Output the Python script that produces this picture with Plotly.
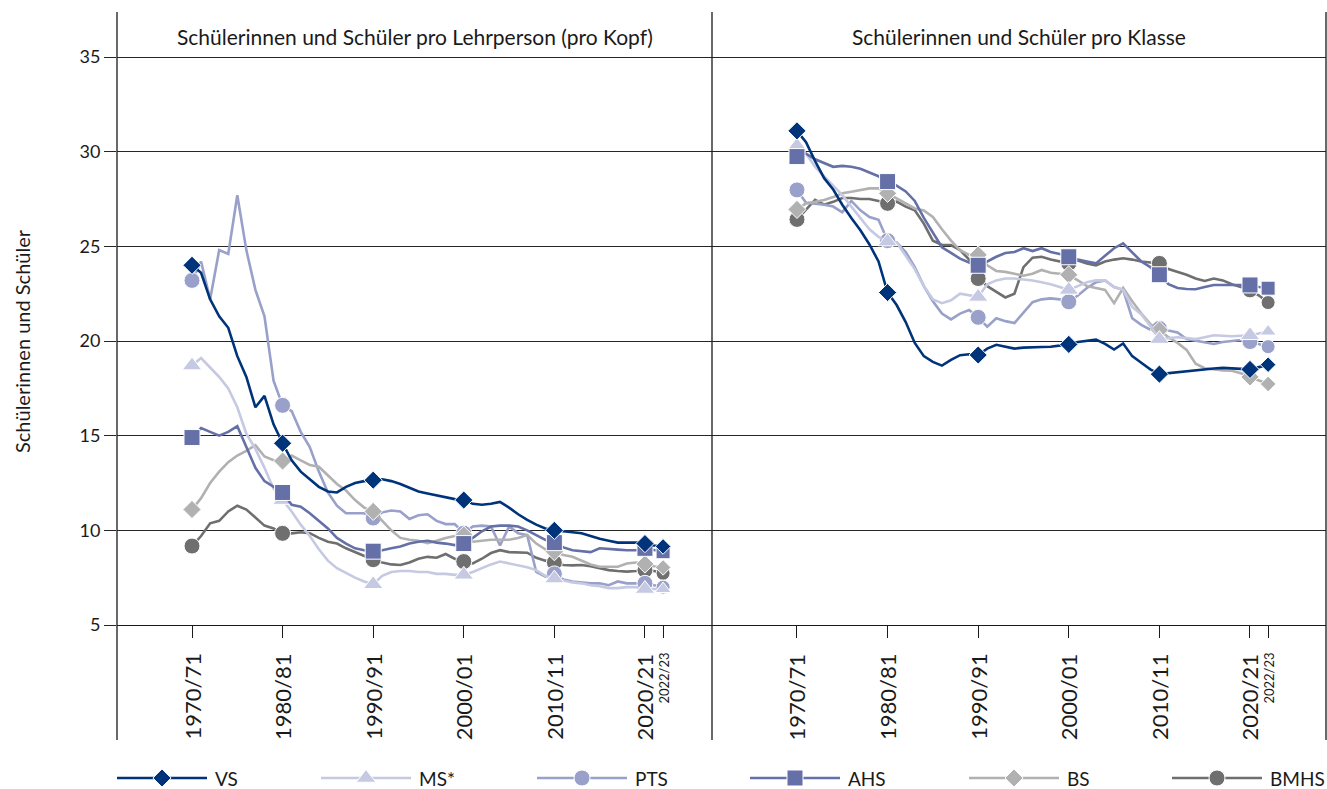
import plotly.graph_objects as go

years = list(range(1970, 2023))
marker_years = [1970, 1980, 1990, 2000, 2010, 2020, 2022]
tick_labels = ["1970/71", "1980/81", "1990/91", "2000/01", "2010/11", "2020/21", "2022/23"]
series = ["VS", "MS*", "PTS", "AHS", "BS", "BMHS"]

# Left panel: Schülerinnen und Schüler pro Lehrperson (pro Kopf)
vs_l = [24.0, 23.6, 22.2, 21.3, 20.7, 19.2, 18.1, 16.5, 17.1, 15.6,
        14.6, 13.7, 13.1, 12.7, 12.3, 12.05, 12.0, 12.3, 12.5, 12.6,
        12.65, 12.7, 12.6, 12.45, 12.25, 12.05, 11.95, 11.85, 11.75, 11.65,
        11.6, 11.4, 11.35, 11.4, 11.5, 11.2, 10.85, 10.55, 10.3, 10.1,
        10.0, 9.95, 9.9, 9.85, 9.7, 9.55, 9.45, 9.35, 9.35, 9.35,
        9.3, 9.2, 9.15]
ms_l = [18.7, 19.1, 18.6, 18.1, 17.5, 16.5, 15.1, 14.3, 13.3, 12.2,
        11.6, 11.0, 10.3, 9.7, 9.0, 8.4, 8.0, 7.75, 7.5, 7.3,
        7.15, 7.6, 7.8, 7.85, 7.85, 7.8, 7.8, 7.7, 7.7, 7.65,
        7.65, 7.8, 8.0, 8.2, 8.35, 8.25, 8.15, 8.05, 7.9, 7.6,
        7.45, 7.35, 7.25, 7.2, 7.1, 7.05, 6.95, 6.95, 7.0, 7.0,
        6.9, 6.9, 6.9]
pts_l = [23.2, 24.2, 22.2, 24.8, 24.6, 27.7, 24.8, 22.7, 21.3, 17.9,
         16.6, 16.3, 15.2, 14.4, 13.1, 12.0, 11.3, 10.9, 10.9, 10.9,
         10.65, 10.95, 11.05, 11.0, 10.6, 10.8, 10.85, 10.5, 10.33, 10.33,
         9.85, 10.2, 10.25, 10.2, 9.2, 10.2, 9.85, 9.75, 7.8, 7.55,
         7.7, 7.4, 7.3, 7.25, 7.2, 7.2, 7.1, 7.3, 7.2, 7.2,
         7.2, 7.1, 7.0]
ahs_l = [14.9, 15.4, 15.2, 15.0, 15.2, 15.5, 14.4, 13.3, 12.6, 12.3,
         12.0, 11.35, 11.25, 10.9, 10.5, 10.1, 9.6, 9.3, 9.05, 8.95,
         8.9, 8.95, 9.05, 9.15, 9.3, 9.4, 9.45, 9.35, 9.3, 9.22,
         9.3, 9.6, 9.95, 10.2, 10.25, 10.25, 10.2, 10.0, 9.75, 9.5,
         9.35, 9.1, 8.95, 8.9, 8.85, 9.05, 9.0, 8.98, 8.95, 8.95,
         9.05, 8.95, 8.87]
bs_l = [11.1, 11.7, 12.5, 13.1, 13.6, 13.95, 14.2, 14.5, 13.9, 13.7,
        13.66, 13.95, 13.7, 13.45, 13.36, 12.9, 12.45, 12.1, 11.6, 11.2,
        11.0, 10.5, 10.0, 9.6, 9.5, 9.45, 9.32, 9.45, 9.6, 9.7,
        9.75, 9.4, 9.45, 9.5, 9.5, 9.5, 9.6, 9.75, 9.3, 9.0,
        8.87, 8.7, 8.6, 8.4, 8.2, 8.08, 8.08, 8.08, 8.25, 8.3,
        8.22, 8.1, 8.04]
bmhs_l = [9.17, 9.7, 10.37, 10.5, 11.0, 11.3, 11.1, 10.7, 10.25, 10.1,
          9.84, 9.84, 9.9, 9.85, 9.6, 9.4, 9.3, 9.05, 8.85, 8.65,
          8.45, 8.3, 8.2, 8.17, 8.3, 8.5, 8.6, 8.55, 8.75, 8.5,
          8.35, 8.25, 8.5, 8.8, 8.95, 8.85, 8.82, 8.82, 8.55, 8.4,
          8.3, 8.17, 8.15, 8.17, 8.1, 8.0, 7.9, 7.85, 7.82, 7.85,
          7.9, 7.85, 7.73]

# Right panel: Schülerinnen und Schüler pro Klasse
vs_r = [31.1, 30.5, 29.5, 28.6, 28.0, 27.2, 26.5, 25.85, 25.1, 24.2,
        22.56, 21.9, 21.0, 19.9, 19.2, 18.9, 18.7, 19.0, 19.25, 19.3,
        19.26, 19.6, 19.8, 19.7, 19.6, 19.65, 19.65, 19.68, 19.7, 19.75,
        19.82, 19.95, 20.0, 20.07, 19.85, 19.55, 19.87, 19.2, 18.85, 18.5,
        18.25, 18.3, 18.37, 18.42, 18.46, 18.5, 18.55, 18.58, 18.55, 18.5,
        18.5, 18.62, 18.75]
ms_r = [30.3, 29.9, 29.2, 28.7, 28.2, 27.7, 27.1, 26.5, 25.9, 25.5,
        25.25, 25.2, 24.5, 23.8, 22.9, 22.2, 22.0, 22.15, 22.5, 22.4,
        22.33, 23.0, 23.2, 23.3, 23.3, 23.25, 23.2, 23.1, 23.0, 22.85,
        22.7, 22.9, 23.1, 23.2, 23.2, 22.85, 22.7, 21.8, 21.4, 20.8,
        20.1, 20.15, 20.2, 20.15, 20.1, 20.2, 20.3, 20.28, 20.25, 20.28,
        20.3, 20.4, 20.5]
pts_r = [27.98, 27.3, 27.25, 27.2, 27.1, 26.8, 27.4, 26.9, 26.55, 26.4,
         25.3, 25.2, 24.7, 23.9, 22.9, 22.1, 21.45, 21.14, 21.45, 21.64,
         21.25, 20.76, 21.2, 21.05, 20.95, 21.5, 22.05, 22.2, 22.25, 22.2,
         22.07, 22.4, 22.8, 23.1, 23.2, 22.85, 22.7, 21.2, 20.85, 20.6,
         20.66, 20.55, 20.45, 20.1, 20.0, 19.9, 19.84, 19.95, 20.0, 20.05,
         19.97, 19.85, 19.7]
ahs_r = [29.74, 29.9, 29.6, 29.4, 29.2, 29.25, 29.2, 29.1, 28.9, 28.7,
         28.42, 28.2, 27.9, 27.4, 26.5, 25.7, 24.95, 24.65, 24.35, 24.15,
         24.0, 24.2, 24.45, 24.65, 24.7, 24.9, 24.75, 24.9, 24.7, 24.6,
         24.45, 24.3, 24.2, 24.1, 24.5, 24.9, 25.16, 24.7, 24.2, 23.9,
         23.5, 23.0, 22.8, 22.75, 22.73, 22.85, 22.96, 22.96, 22.96, 22.96,
         22.96, 22.85, 22.79]
bs_r = [26.95, 27.27, 27.35, 27.45, 27.6, 27.8, 27.88, 27.95, 28.06, 28.06,
        27.8, 27.55, 27.25, 27.0, 26.9, 26.55, 25.9, 25.3, 24.8, 24.55,
        24.55, 24.0, 23.7, 23.65, 23.55, 23.45, 23.55, 23.75, 23.6, 23.55,
        23.5, 23.2, 22.9, 22.8, 22.7, 22.0, 22.8, 22.1, 21.45, 20.9,
        20.58, 20.2, 19.9, 19.53, 18.8, 18.56, 18.5, 18.45, 18.43, 18.3,
        18.1, 17.9, 17.73]
bmhs_r = [26.42, 26.95, 27.45, 27.2, 27.35, 27.55, 27.55, 27.5, 27.5, 27.4,
          27.27, 27.36, 27.1, 26.9, 26.2, 25.3, 25.07, 25.07, 24.8, 24.3,
          23.3, 22.9, 22.6, 22.3, 22.5, 23.9, 24.4, 24.45, 24.3, 24.2,
          24.1, 24.25, 24.1, 24.0, 24.2, 24.3, 24.37, 24.3, 24.2, 24.15,
          24.1, 23.8, 23.65, 23.5, 23.3, 23.17, 23.3, 23.2, 23.0, 22.85,
          22.7, 22.4, 22.03]

colors = {"VS": "#00347a", "MS*": "#c6c9e2", "PTS": "#99a0c9",
          "AHS": "#6470a7", "BS": "#b1b1b1", "BMHS": "#6f6f6f"}
symbols = {"VS": "diamond", "MS*": "triangle-up", "PTS": "circle",
           "AHS": "square", "BS": "diamond", "BMHS": "circle"}
msizes = {"VS": 14, "MS*": 17, "PTS": 16, "AHS": 16, "BS": 14, "BMHS": 16}
left = {"VS": vs_l, "MS*": ms_l, "PTS": pts_l, "AHS": ahs_l, "BS": bs_l, "BMHS": bmhs_l}
right = {"VS": vs_r, "MS*": ms_r, "PTS": pts_r, "AHS": ahs_r, "BS": bs_r, "BMHS": bmhs_r}
draw_order = ["BMHS", "PTS", "BS", "MS*", "AHS", "VS"]

FONT = "Lato"
TXT = "#1a1a1a"
W, H = 1327, 789
L, R, T, B = 117, 1, 12, 0
PW, PH = W - L - R, H - T - B


def px_x(p):
    return (p - L) / PW


def px_y(p):
    return (H - B - p) / PH


split = px_x(712)
ydom0 = px_y(625)

fig = go.Figure()

for xa, ya, data in (("x", "y", left), ("x2", "y2", right)):
    for name in draw_order:
        vals = data[name]
        fig.add_trace(go.Scatter(x=years, y=vals, mode="lines", xaxis=xa, yaxis=ya,
                                 line=dict(color=colors[name], width=2.6),
                                 showlegend=False, hoverinfo="skip"))
        my = [vals[years.index(yr)] for yr in marker_years]
        s = msizes[name]
        fig.add_trace(go.Scatter(x=marker_years, y=my, mode="markers", xaxis=xa, yaxis=ya,
                                 marker=dict(symbol=symbols[name], color=colors[name], opacity=1,
                                             size=[s] * 6 + [round(s * 0.85)],
                                             line=dict(color="white", width=1)),
                                 showlegend=False, name=name))

# custom legend drawn on an auxiliary pixel axis
legend_centers = {"VS": 162, "MS*": 366, "PTS": 582, "AHS": 795, "BS": 1014, "BMHS": 1217}
leg_y = H - 778
for name in series:
    cx = legend_centers[name]
    fig.add_trace(go.Scatter(x=[cx - 45, cx + 45], y=[leg_y, leg_y], mode="lines",
                             xaxis="x3", yaxis="y3", line=dict(color=colors[name], width=2.6),
                             showlegend=False, hoverinfo="skip"))
    fig.add_trace(go.Scatter(x=[cx], y=[leg_y], mode="markers", xaxis="x3", yaxis="y3",
                             marker=dict(symbol=symbols[name], color=colors[name], size=msizes[name],
                                         opacity=1, line=dict(color="white", width=1)),
                             showlegend=False, hoverinfo="skip"))

annotations = []
for name in series:
    annotations.append(dict(x=legend_centers[name] + 51, y=leg_y, xref="x3", yref="y3",
                            text=name, showarrow=False, xanchor="left", yanchor="middle",
                            font=dict(family=FONT, size=19, color=TXT)))

# x tick labels
for xr in ("x", "x2"):
    for yr, lab in zip(marker_years, tick_labels):
        small = yr == 2022
        annotations.append(dict(x=yr, y=px_y(651), xref=xr, yref="paper", text=lab,
                                textangle=-90, showarrow=False, xanchor="center", yanchor="top",
                                font=dict(family=FONT, size=13 if small else 22, color=TXT)))

# panel titles
annotations.append(dict(x=(0 + split) / 2, y=px_y(36), xref="paper", yref="paper",
                        text="Schülerinnen und Schüler pro Lehrperson (pro Kopf)", showarrow=False,
                        xanchor="center", yanchor="middle",
                        font=dict(family=FONT, size=21, color=TXT)))
annotations.append(dict(x=(split + 1) / 2, y=px_y(36), xref="paper", yref="paper",
                        text="Schülerinnen und Schüler pro Klasse", showarrow=False,
                        xanchor="center", yanchor="middle",
                        font=dict(family=FONT, size=21, color=TXT)))
# y axis title
annotations.append(dict(x=px_x(22), y=20, xref="paper", yref="y", text="Schülerinnen und Schüler",
                        textangle=-90, showarrow=False, xanchor="center", yanchor="middle",
                        font=dict(family=FONT, size=20, color=TXT)))

shapes = []
for xp in (0, split, 1):
    shapes.append(dict(type="line", xref="paper", yref="paper", x0=xp, x1=xp,
                       y0=px_y(740), y1=1, line=dict(color=TXT, width=1.3)))

grid = dict(showgrid=True, gridcolor="#262626", gridwidth=1.3, zeroline=False,
            range=[5, 37.377], tickvals=[5, 10, 15, 20, 25, 30, 35], automargin=False)
tickv = marker_years
xcommon = dict(tickvals=tickv, showticklabels=False, ticks="outside", ticklen=12,
               tickcolor=TXT, tickwidth=1.3, showgrid=False, zeroline=False,
               showline=True, linecolor=TXT, linewidth=1.3, automargin=False)
fig.update_layout(
    width=W, height=H, margin=dict(l=L, r=R, t=T, b=B, autoexpand=False),
    paper_bgcolor="white", plot_bgcolor="white",
    font=dict(family=FONT, color=TXT),
    xaxis=dict(domain=[0, split], range=[1961.72, 2027.4], anchor="y", **xcommon),
    xaxis2=dict(domain=[split, 1], range=[1960.62, 2028.39], anchor="y2", **xcommon),
    yaxis=dict(domain=[ydom0, 1], anchor="x", ticks="outside", ticklen=12,
               tickcolor="#262626", tickwidth=1.3, tickfont=dict(family=FONT, size=18, color=TXT),
               **grid),
    yaxis2=dict(domain=[ydom0, 1], anchor="x2", showticklabels=False, ticks="", **grid),
    xaxis3=dict(domain=[0, 1], range=[L, W - R], anchor="y3", visible=False, automargin=False),
    yaxis3=dict(domain=[0, 0.1], range=[0, 0.1 * PH], anchor="x3", visible=False, automargin=False),
    annotations=annotations, shapes=shapes,
)

fig.write_html("out.html", config={"displayModeBar": False},
               post_script="document.body.style.margin='0';document.body.style.overflow='hidden';")
